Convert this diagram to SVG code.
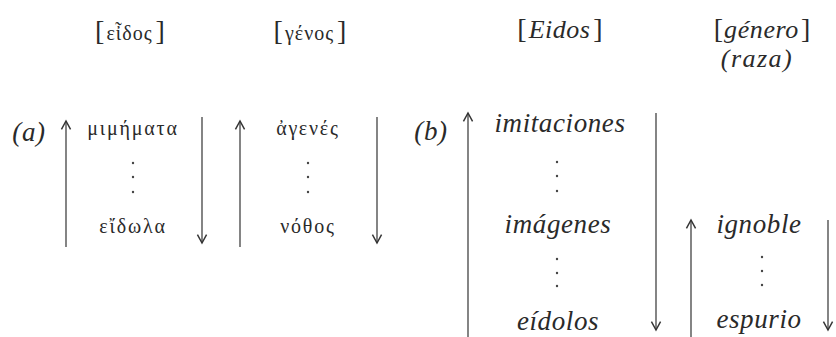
<svg xmlns="http://www.w3.org/2000/svg" width="836" height="337" viewBox="0 0 836 337">
<style>
.lat{font-family:"Liberation Serif","DejaVu Serif",serif;font-style:italic;font-size:27px;fill:#2a2a2a;text-anchor:middle;letter-spacing:0.6px}
.grk{font-family:"Liberation Serif","DejaVu Serif",serif;font-size:20px;fill:#2a2a2a;text-anchor:middle;letter-spacing:1.8px}
.hdr{font-family:"Liberation Serif","DejaVu Serif",serif;font-size:26px;fill:#2a2a2a;text-anchor:middle}
.br{font-style:normal;font-size:28px}
.arr{stroke:#333;stroke-width:1.2;fill:none;marker-end:url(#ah)}
.dot{fill:#444}
</style>
<defs>
<marker id="ah" markerUnits="userSpaceOnUse" orient="auto" refX="0" refY="0" markerWidth="12" markerHeight="12" viewBox="-8 -5 10 10" overflow="visible">
<path d="M-7,-3.8 L0,0 L-7,3.8" fill="none" stroke="#333" stroke-width="1.2"/>
</marker>
</defs>
<g id="headers">
<g id="h-eidos-gr"><text class="hdr" x="130" y="40"><tspan class="br">[</tspan><tspan font-size="20" dx="2" letter-spacing="1">εἶδος</tspan><tspan class="br" dx="3">]</tspan></text></g>
<g id="h-genos-gr"><text class="hdr" x="310" y="40"><tspan class="br">[</tspan><tspan font-size="20" dx="2" letter-spacing="1">γένος</tspan><tspan class="br" dx="3">]</tspan></text></g>
<g id="h-eidos"><text class="hdr" x="560" y="38" font-style="italic"><tspan class="br">[</tspan><tspan dx="2" letter-spacing="0.5">Eidos</tspan><tspan class="br" dx="3">]</tspan></text></g>
<g id="h-genero"><text class="hdr" x="762" y="38" font-style="italic"><tspan class="br">[</tspan><tspan dx="1" letter-spacing="0.6">género</tspan><tspan class="br" dx="2">]</tspan></text>
<text class="hdr" x="757" y="67" font-style="italic" font-size="25" letter-spacing="1.5">(raza)</text></g>
</g>
<g id="col-a1">
<text class="lat" x="29" y="141">(a)</text>
<text class="grk" x="133" y="135">μιμήματα</text>
<circle class="dot" cx="133" cy="163" r="1.2"/><circle class="dot" cx="133" cy="177" r="1.2"/><circle class="dot" cx="133" cy="192" r="1.2"/>
<text class="grk" x="133" y="233">εἴδωλα</text>
</g>
<g id="col-a2">
<text class="grk" x="308" y="135">ἀγενές</text>
<circle class="dot" cx="308" cy="163" r="1.2"/><circle class="dot" cx="308" cy="177" r="1.2"/><circle class="dot" cx="308" cy="192" r="1.2"/>
<text class="grk" x="308" y="233">νόθος</text>
</g>
<g id="col-b1">
<text class="lat" x="431" y="140">(b)</text>
<text class="lat" x="560" y="132">imitaciones</text>
<circle class="dot" cx="557" cy="162" r="1.2"/><circle class="dot" cx="557" cy="176" r="1.2"/><circle class="dot" cx="557" cy="191" r="1.2"/>
<text class="lat" x="558" y="233">imágenes</text>
<circle class="dot" cx="557" cy="259" r="1.2"/><circle class="dot" cx="557" cy="273" r="1.2"/><circle class="dot" cx="557" cy="286" r="1.2"/>
<text class="lat" x="558" y="330">eídolos</text>
</g>
<g id="col-b2">
<text class="lat" x="759" y="233">ignoble</text>
<circle class="dot" cx="762" cy="257" r="1.2"/><circle class="dot" cx="762" cy="271" r="1.2"/><circle class="dot" cx="762" cy="285" r="1.2"/>
<text class="lat" x="759" y="328">espurio</text>
</g>
<g id="connectors">
<line class="arr" x1="66" y1="247" x2="66" y2="121"/>
<line class="arr" x1="202" y1="117" x2="202" y2="243"/>
<line class="arr" x1="240" y1="247" x2="240" y2="121"/>
<line class="arr" x1="377" y1="117" x2="377" y2="243"/>
<line class="arr" x1="468" y1="337" x2="468" y2="113"/>
<line class="arr" x1="656" y1="113" x2="656" y2="330"/>
<line class="arr" x1="691" y1="337" x2="691" y2="220"/>
<line class="arr" x1="828" y1="220" x2="828" y2="330"/>
</g>
</svg>
